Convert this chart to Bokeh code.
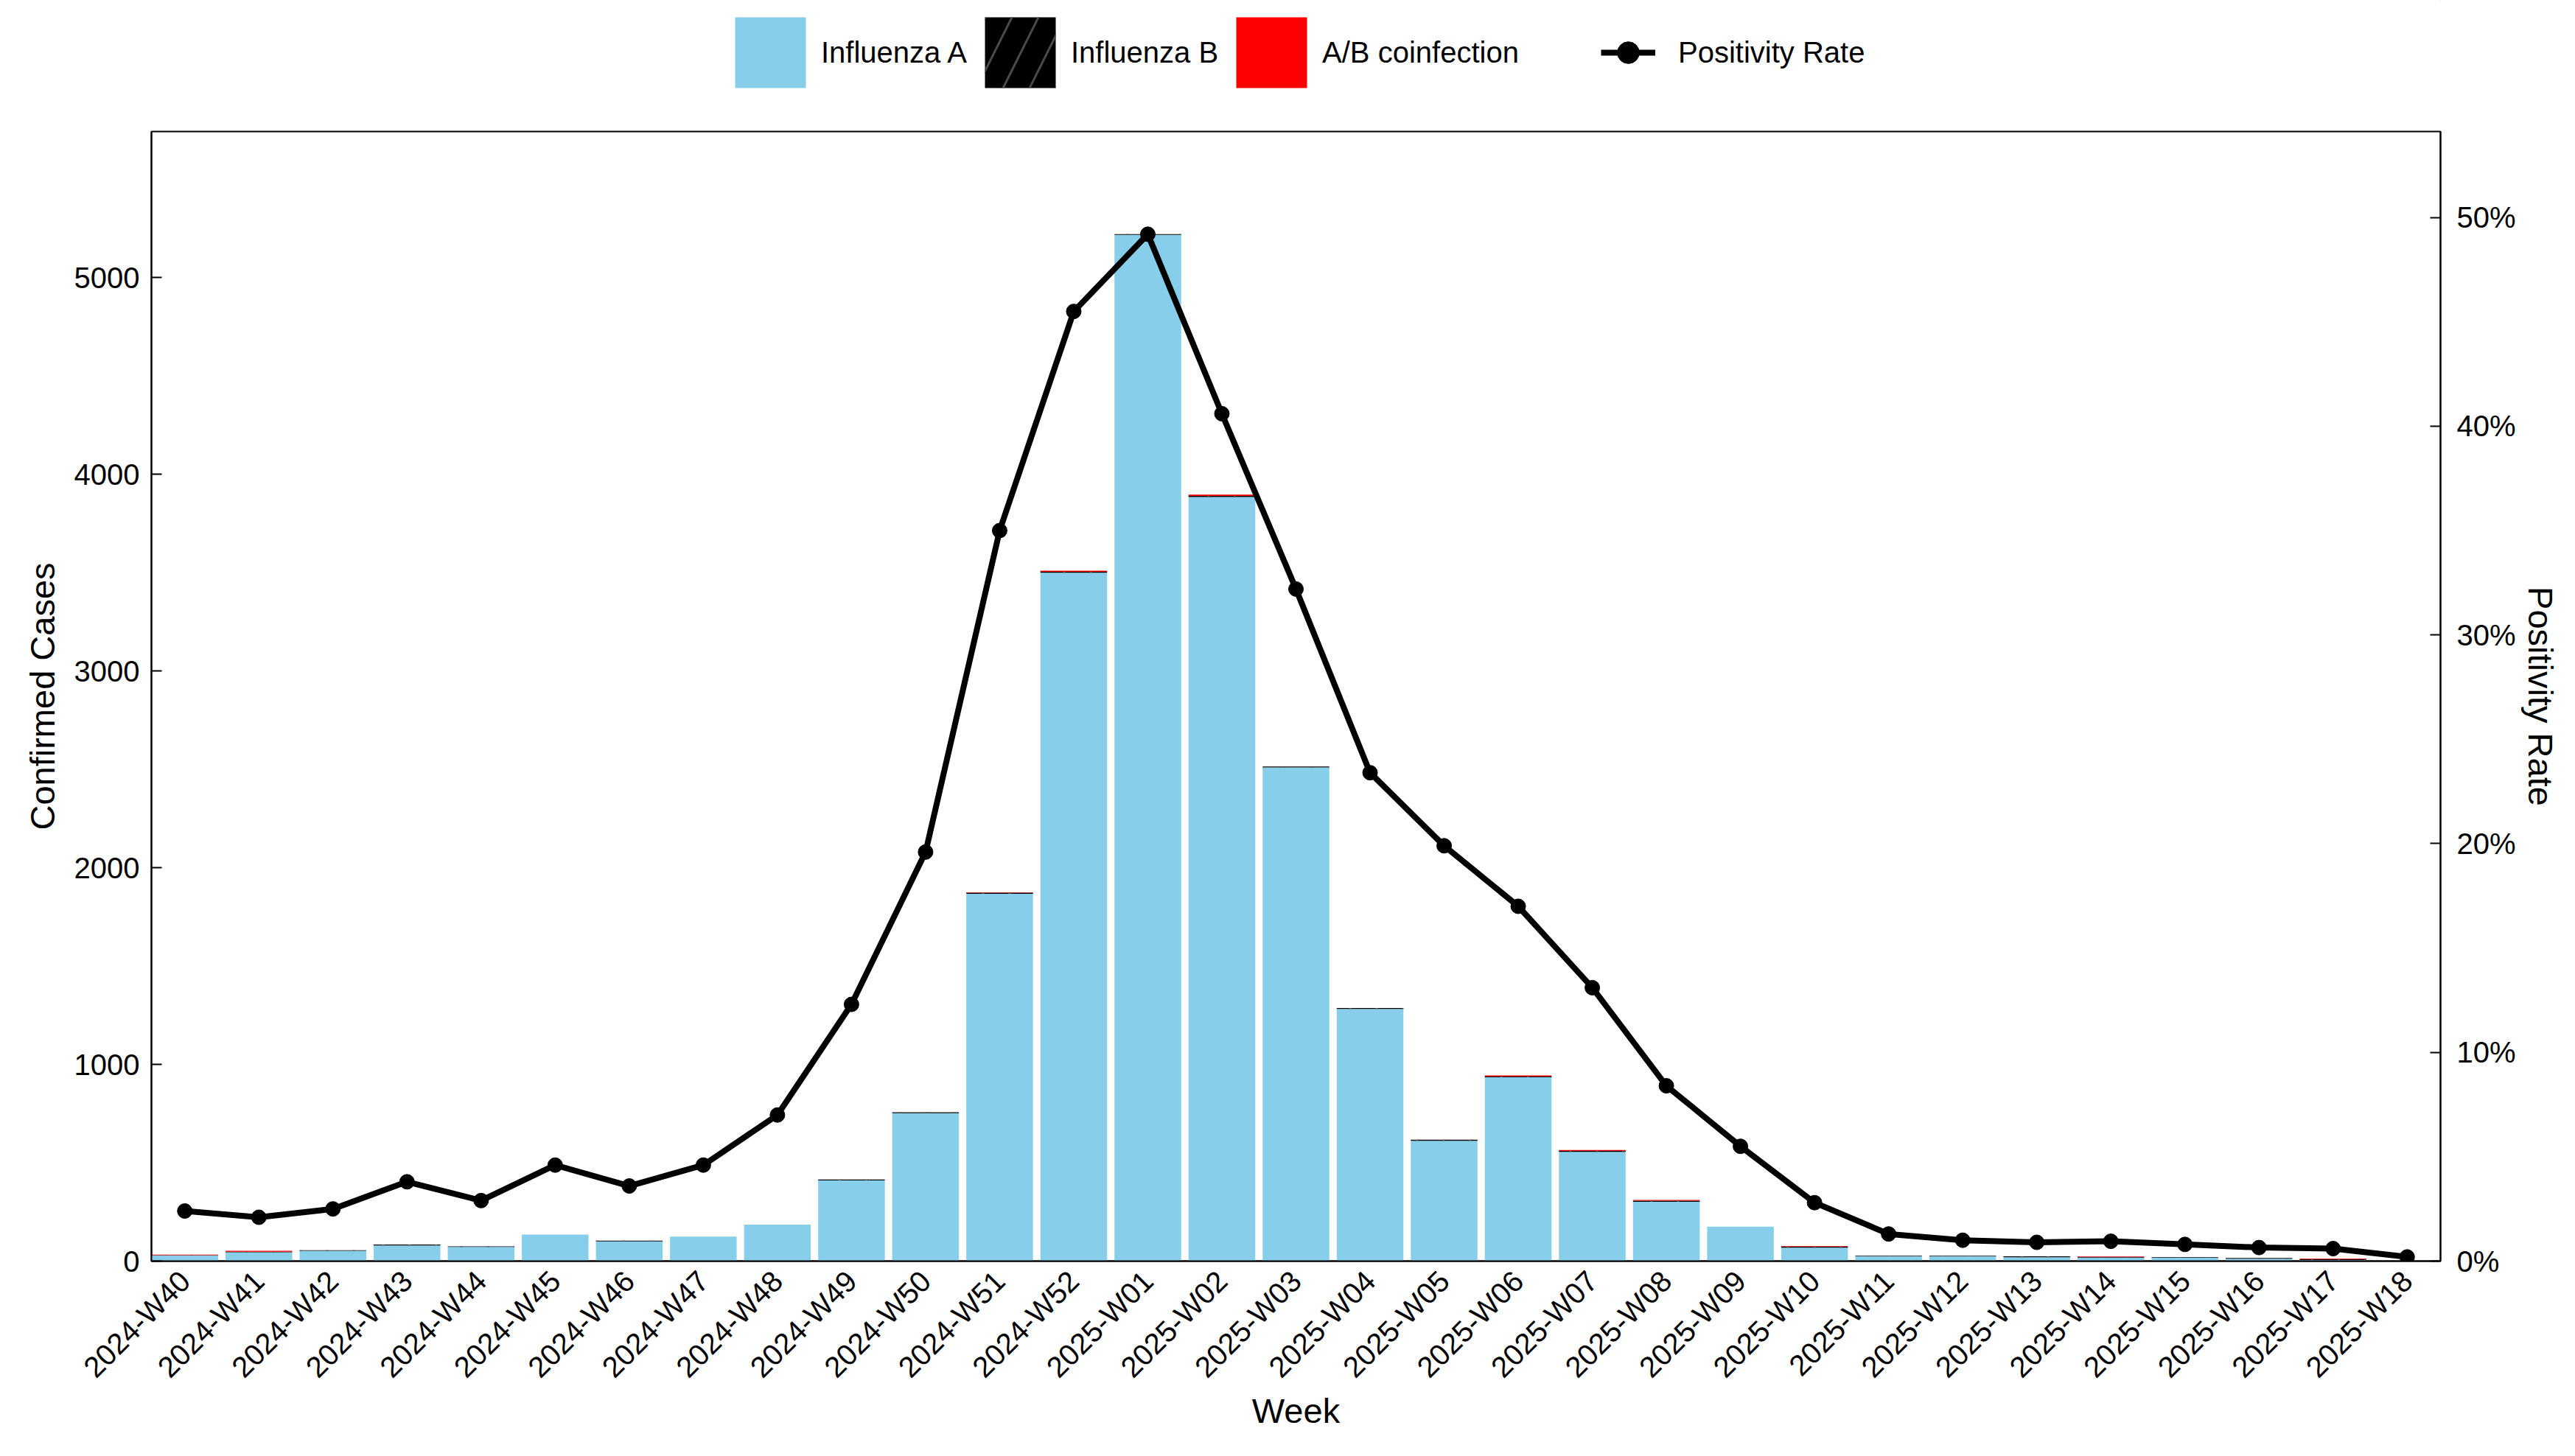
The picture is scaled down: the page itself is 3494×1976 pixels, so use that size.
import math
import numpy as np
from bokeh.plotting import figure
from bokeh.layouts import column
from bokeh.models import (ColumnDataSource, Range1d, LinearAxis, FixedTicker,
                          NumeralTickFormatter, Legend, LegendItem)
from bokeh.embed import file_html
from bokeh.resources import INLINE

weeks = ["2024-W40", "2024-W41", "2024-W42", "2024-W43", "2024-W44", "2024-W45",
         "2024-W46", "2024-W47", "2024-W48", "2024-W49", "2024-W50", "2024-W51",
         "2024-W52", "2025-W01", "2025-W02", "2025-W03", "2025-W04", "2025-W05",
         "2025-W06", "2025-W07", "2025-W08", "2025-W09", "2025-W10", "2025-W11",
         "2025-W12", "2025-W13", "2025-W14", "2025-W15", "2025-W16", "2025-W17",
         "2025-W18"]
flu_a = [28, 45, 52, 80, 72, 135, 100, 125, 185, 410, 752, 1868, 3500, 5218, 3885,
         2510, 1282, 612, 935, 555, 302, 175, 68, 25, 25, 20, 18, 18, 12, 6, 2]
flu_b = [2, 3, 3, 4, 3, 0, 4, 0, 0, 5, 5, 5, 5, 3, 6, 5, 5, 5, 3, 5, 5, 0, 6, 3,
         3, 4, 3, 3, 4, 4, 0]
coinf = [3, 4, 0, 0, 0, 0, 0, 0, 0, 0, 0, 2, 5, 0, 6, 0, 0, 0, 6, 5, 4, 0, 3, 0,
         0, 0, 2, 0, 0, 3, 0]
pos_rate = [2.4, 2.1, 2.5, 3.8, 2.9, 4.6, 3.6, 4.6, 7.0, 12.3, 19.6, 35.0, 45.5,
            49.2, 40.6, 32.2, 23.4, 19.9, 17.0, 13.1, 8.4, 5.5, 2.8, 1.3, 1.0,
            0.9, 0.95, 0.8, 0.65, 0.6, 0.2]

FONT = "Liberation Sans"
W = 3478
LH = 170            # height of the legend strip
MH = 1790           # height of the main chart
BL, BR, BT, BB = 205, 167, 8, 249

A_STYLE = dict(fill_color="#87CEEB", line_color=None)
B_STYLE = dict(fill_color="black", line_color=None, hatch_pattern="/",
               hatch_color="#4a4a4a", hatch_scale=72, hatch_weight=3)
C_STYLE = dict(fill_color="#FF0000", line_color=None)

x = list(range(len(weeks)))
a = np.array(flu_a, dtype=float)
b = np.array(flu_b, dtype=float)
c = np.array(coinf, dtype=float)
src = ColumnDataSource(dict(
    x=x, zero=np.zeros(len(x)), a_top=a, b_top=a + b, c_top=a + b + c,
    rate=np.array(pos_rate) / 100.0))

ymax = float((a + b + c).max()) * 1.1
rmax = max(pos_rate) / 100.0 * 1.1

# ---------------- main chart ----------------
p = figure(width=W, height=MH, output_backend="svg", toolbar_location=None,
           x_range=Range1d(-0.45, len(weeks) - 0.55), y_range=Range1d(0, ymax),
           min_border_left=BL, min_border_right=BR, min_border_top=BT,
           min_border_bottom=BB, background_fill_color="white",
           border_fill_color="white", title=None)
p.extra_y_ranges = {"rate": Range1d(0, rmax)}
p.xgrid.visible = False
p.ygrid.visible = False
p.outline_line_color = "black"
p.outline_line_width = 2

p.vbar(x="x", bottom="zero", top="a_top", width=0.9, source=src, **A_STYLE)
p.vbar(x="x", bottom="a_top", top="b_top", width=0.9, source=src, **B_STYLE)
p.vbar(x="x", bottom="b_top", top="c_top", width=0.9, source=src, **C_STYLE)
p.line(x="x", y="rate", source=src, y_range_name="rate", line_color="black",
       line_width=8, line_join="round")
p.scatter(x="x", y="rate", source=src, y_range_name="rate", size=20,
          fill_color="black", line_color="black")

ya = p.yaxis[0]
ya.ticker = FixedTicker(ticks=[0, 1000, 2000, 3000, 4000, 5000])
ya.axis_label = "Confirmed Cases"

ra = LinearAxis(y_range_name="rate", axis_label="Positivity Rate",
                ticker=FixedTicker(ticks=[0, 0.1, 0.2, 0.3, 0.4, 0.5]),
                formatter=NumeralTickFormatter(format="0%"))
p.add_layout(ra, "right")

xa = p.xaxis[0]
xa.ticker = FixedTicker(ticks=x)
xa.major_label_overrides = {i: w for i, w in enumerate(weeks)}
xa.major_label_orientation = math.pi / 4
xa.major_tick_in = 0
xa.major_tick_out = 0
xa.major_label_standoff = 20
xa.axis_label = "Week"
xa.axis_label_standoff = -8

for ax in (ya, ra, xa):
    ax.axis_line_color = "black"
    ax.axis_line_width = 2
    ax.minor_tick_line_color = None
    ax.major_label_text_font = FONT
    ax.major_label_text_font_size = "40px"
    ax.major_label_text_color = "black"
    ax.axis_label_text_font = FONT
    ax.axis_label_text_font_size = "47px"
    ax.axis_label_text_font_style = "normal"
    ax.axis_label_text_color = "black"
for ax in (ya, ra):
    ax.major_tick_in = 14
    ax.major_tick_out = 0
    ax.major_tick_line_width = 2
    ax.major_tick_line_color = "black"
ya.major_label_standoff = 16
ra.major_label_standoff = 22
ya.axis_label_standoff = 14
ra.axis_label_standoff = 4

# ---------------- legend strip ----------------
lg = figure(width=W, height=LH, output_backend="svg", toolbar_location=None,
            x_range=Range1d(0, 1), y_range=Range1d(0, 1), x_axis_location=None,
            y_axis_location=None, min_border=0, title=None,
            background_fill_color="white", border_fill_color="white")
lg.outline_line_color = None
lg.xgrid.visible = False
lg.ygrid.visible = False
# key renderers kept outside the visible range of the legend strip
dA = lg.vbar(x=[5], top=[5], bottom=[4], width=0.9, **A_STYLE)
dB = lg.vbar(x=[5], top=[5], bottom=[4], width=0.9, **B_STYLE)
dC = lg.vbar(x=[5], top=[5], bottom=[4], width=0.9, **C_STYLE)
dL = lg.line(x=[5, 6], y=[5, 5], line_color="black", line_width=8)
dS = lg.scatter(x=[5], y=[5], size=20, fill_color="black", line_color="black")

legend_style = dict(orientation="horizontal", padding=0, margin=0,
                    border_line_color=None, background_fill_alpha=0,
                    label_text_font=FONT, label_text_font_size="40px",
                    label_text_color="black", glyph_height=120)
leg1 = Legend(items=[
    LegendItem(label="Influenza A", renderers=[dA]),
    LegendItem(label="Influenza B", renderers=[dB]),
    LegendItem(label="A/B coinfection", renderers=[dC]),
], location=(780, 39), glyph_width=120, label_standoff=9, spacing=12,
    **legend_style)
leg2 = Legend(items=[
    LegendItem(label="Positivity Rate", renderers=[dL, dS]),
], location=(1967, 39), glyph_width=74, label_standoff=31, spacing=0,
    **legend_style)
lg.add_layout(leg1)
lg.add_layout(leg2)

page = column(lg, p, spacing=0)
open("out.html", "w").write(file_html(page, INLINE))
